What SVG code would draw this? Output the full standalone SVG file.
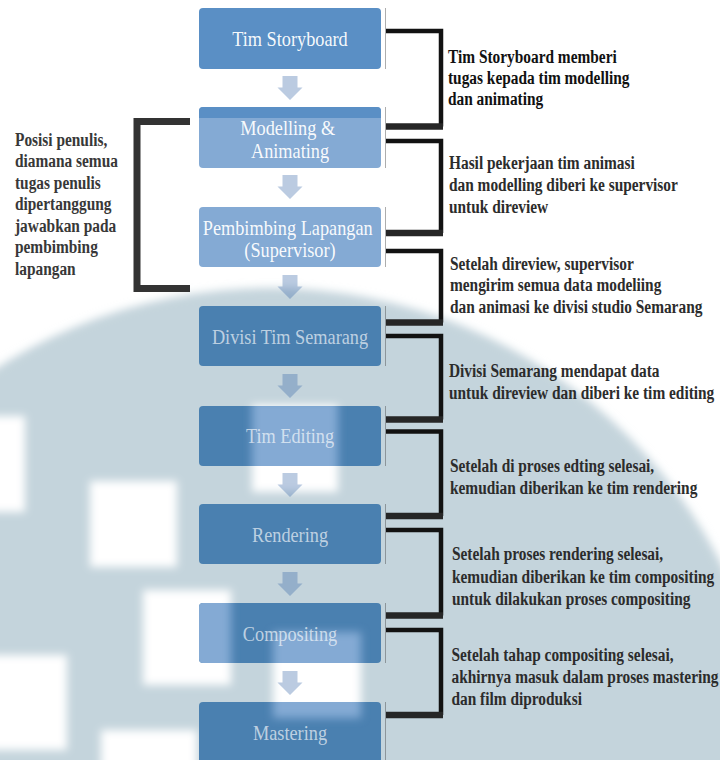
<svg xmlns="http://www.w3.org/2000/svg" xmlns:xlink="http://www.w3.org/1999/xlink" width="720" height="760" viewBox="0 0 720 760">
  <style>
    .lbl { font-family: "Liberation Serif", "Times New Roman", serif; font-size: 21px; text-anchor: middle; }
    .lbl-top { fill: #ffffff; fill-opacity: 0.96; }
    .lbl-low { fill: #ffffff; fill-opacity: 0.65; }
    .note { font-family: "Liberation Serif", "Times New Roman", serif; font-weight: bold; font-size: 19px; fill: #2c2c2c; }
    .edge { stroke: #4a4a4a; stroke-opacity: 0.45; stroke-width: 1; }
    .br { fill: none; stroke: #121212; stroke-width: 4.5; }
    .br-foot { fill: none; stroke: #262626; stroke-width: 6.5; }
    .br-left { fill: none; stroke: #333333; stroke-width: 7; }
    .arrow { fill: #3d6aa8; fill-opacity: 0.35; }
    .hole { fill: #ffffff; }
    .patch { fill: #84aad4; }
  </style>
  <defs>
    <filter id="soft" x="-30%" y="-30%" width="160%" height="160%">
      <feGaussianBlur stdDeviation="4"/>
    </filter>
    <path id="arr" d="M-7.5,0 H7.5 V11.5 H12.5 L0,24 L-12.5,11.5 H-7.5 Z"/>
    <clipPath id="clip-editing"><rect x="199" y="406" width="182" height="60" rx="4"/></clipPath>
    <clipPath id="clip-compositing"><rect x="199" y="603" width="182" height="60" rx="4"/></clipPath>
    <clipPath id="clip-mastering"><rect x="199" y="702" width="182" height="60" rx="4"/></clipPath>
  </defs>

  <!-- backdrop: white page, large grey disc, soft white blocks -->
  <g id="backdrop">
    <rect x="0" y="0" width="720" height="760" fill="#ffffff"/>
    <circle cx="270" cy="795" r="507" fill="#c4d4dc" filter="url(#soft)"/>
    <g filter="url(#soft)">
      <rect class="hole" x="-10" y="416" width="35" height="96"/>
      <rect class="hole" x="90" y="481" width="87" height="86"/>
      <rect class="hole" x="143" y="590" width="88" height="95"/>
      <rect class="hole" x="-10" y="655" width="77" height="95"/>
      <rect class="hole" x="101" y="730" width="96" height="40"/>
      <rect class="hole" x="252" y="405" width="86" height="87"/>
      <rect class="hole" x="273" y="632" width="88" height="86"/>
    </g>
  </g>

  <!-- flow arrows and side brackets -->
  <g id="connectors">
    <use class="arrow" xlink:href="#arr" x="290" y="76"/>
    <use class="arrow" xlink:href="#arr" x="290" y="175"/>
    <use class="arrow" xlink:href="#arr" x="290" y="275"/>
    <use class="arrow" xlink:href="#arr" x="290" y="374"/>
    <use class="arrow" xlink:href="#arr" x="290" y="473"/>
    <use class="arrow" xlink:href="#arr" x="290" y="572"/>
    <use class="arrow" xlink:href="#arr" x="290" y="671"/>

    <path class="br" d="M386,31 H441 V126.5"/>
    <path class="br-foot" d="M386,126.5 H443"/>
    <path class="br" d="M386,141 H441 V233"/>
    <path class="br-foot" d="M386,233 H443"/>
    <path class="br" d="M386,251 H441 V322.5"/>
    <path class="br-foot" d="M386,322.5 H443"/>
    <path class="br" d="M386,336 H441 V419.5"/>
    <path class="br-foot" d="M386,419.5 H443"/>
    <path class="br" d="M386,431.5 H441 V516"/>
    <path class="br-foot" d="M386,516 H443"/>
    <path class="br" d="M386,530 H441 V615.5"/>
    <path class="br-foot" d="M386,615.5 H443"/>
    <path class="br" d="M386,630 H441 V715"/>
    <path class="br-foot" d="M386,715 H443"/>

    <path class="br-left" d="M190,121.5 H137 V288.5 H190"/>
    <path class="br-left" stroke-width="9.5" d="M190,121.5 H137 M137,288.5 H190"/>
  </g>

  <!-- process steps -->
  <g id="node-storyboard">
    <rect x="199" y="8" width="182" height="61" rx="4" fill="#5a8fc5"/>
    <line class="edge" x1="385.5" y1="8" x2="385.5" y2="69"/>
    <text class="lbl lbl-top" transform="translate(290,0) scale(0.87,1)" x="0" y="46.5">Tim Storyboard</text>
  </g>

  <g id="node-modelling">
    <rect x="199" y="107" width="182" height="61" rx="4" fill="#84aad4"/>
    <path d="M199,118 V111 Q199,107 203,107 H377 Q381,107 381,111 V118 Z" fill="#5a8fc5"/>
    <line class="edge" x1="385.5" y1="107" x2="385.5" y2="168"/>
    <text class="lbl lbl-top" transform="translate(290,0) scale(0.87,1)">
      <tspan x="0" y="135">Modelling &amp;</tspan>
      <tspan x="0" y="158">Animating</tspan>
    </text>
  </g>

  <g id="node-supervisor">
    <rect x="199" y="207" width="182" height="60" rx="4" fill="#84aad4"/>
    <line class="edge" x1="385.5" y1="207" x2="385.5" y2="267"/>
    <text class="lbl lbl-top" transform="translate(290,0) scale(0.87,1)">
      <tspan x="0" y="235">Pembimbing Lapangan</tspan>
      <tspan x="0" y="257">(Supervisor)</tspan>
    </text>
  </g>

  <g id="node-semarang">
    <rect x="199" y="306" width="182" height="60" rx="4" fill="#4a80b0"/>
    <line class="edge" x1="385.5" y1="306" x2="385.5" y2="366"/>
    <text class="lbl lbl-low" transform="translate(290,0) scale(0.87,1)" x="0" y="344">Divisi Tim Semarang</text>
  </g>

  <g id="node-editing">
    <rect x="199" y="406" width="182" height="60" rx="4" fill="#4a80b0"/>
    <g clip-path="url(#clip-editing)">
      <rect class="patch" x="252" y="400" width="86" height="92" filter="url(#soft)"/>
    </g>
    <line class="edge" x1="385.5" y1="406" x2="385.5" y2="466"/>
    <text class="lbl lbl-low" transform="translate(290,0) scale(0.87,1)" x="0" y="443.5">Tim Editing</text>
  </g>

  <g id="node-rendering">
    <rect x="199" y="504" width="182" height="60" rx="4" fill="#4a80b0"/>
    <line class="edge" x1="385.5" y1="504" x2="385.5" y2="564"/>
    <text class="lbl lbl-low" transform="translate(290,0) scale(0.87,1)" x="0" y="542.5">Rendering</text>
  </g>

  <g id="node-compositing">
    <rect x="199" y="603" width="182" height="60" rx="4" fill="#4a80b0"/>
    <g clip-path="url(#clip-compositing)">
      <rect class="patch" x="143" y="590" width="88" height="95" filter="url(#soft)"/>
      <rect class="patch" x="273" y="632" width="88" height="86" filter="url(#soft)"/>
    </g>
    <line class="edge" x1="385.5" y1="603" x2="385.5" y2="663"/>
    <text class="lbl lbl-low" transform="translate(290,0) scale(0.87,1)" x="0" y="641.5">Compositing</text>
  </g>

  <g id="node-mastering">
    <rect x="199" y="702" width="182" height="62" rx="4" fill="#4a80b0"/>
    <g clip-path="url(#clip-mastering)">
      <rect class="patch" x="273" y="632" width="88" height="86" filter="url(#soft)"/>
    </g>
    <line class="edge" x1="385.5" y1="702" x2="385.5" y2="760"/>
    <text class="lbl lbl-low" transform="translate(290,0) scale(0.87,1)" x="0" y="740.5">Mastering</text>
  </g>

  <!-- explanatory notes -->
  <g id="note-writer">
    <text class="note" fill="#383838" style="fill:#383838" transform="translate(15,0) scale(0.81,1)">
      <tspan x="0" y="146">Posisi penulis,</tspan>
      <tspan x="0" y="167.5">diamana semua</tspan>
      <tspan x="0" y="189">tugas penulis</tspan>
      <tspan x="0" y="210.5">dipertanggung</tspan>
      <tspan x="0" y="232">jawabkan pada</tspan>
      <tspan x="0" y="253.5">pembimbing</tspan>
      <tspan x="0" y="275">lapangan</tspan>
    </text>
  </g>

  <g id="note-1">
    <text class="note" style="fill:#111111" transform="translate(448,0) scale(0.81,1)">
      <tspan x="0" y="63">Tim Storyboard memberi</tspan>
      <tspan x="0" y="84">tugas kepada tim modelling</tspan>
      <tspan x="0" y="105">dan animating</tspan>
    </text>
  </g>

  <g id="note-2">
    <text class="note" transform="translate(449,0) scale(0.81,1)">
      <tspan x="0" y="169">Hasil pekerjaan tim animasi</tspan>
      <tspan x="0" y="191.5">dan modelling diberi ke supervisor</tspan>
      <tspan x="0" y="213">untuk direview</tspan>
    </text>
  </g>

  <g id="note-3">
    <text class="note" transform="translate(450,0) scale(0.81,1)">
      <tspan x="0" y="270">Setelah direview, supervisor</tspan>
      <tspan x="0" y="291.5">mengirim semua data modeliing</tspan>
      <tspan x="0" y="313">dan animasi ke divisi studio Semarang</tspan>
    </text>
  </g>

  <g id="note-4">
    <text class="note" transform="translate(449,0) scale(0.81,1)">
      <tspan x="0" y="377">Divisi Semarang mendapat data</tspan>
      <tspan x="0" y="399">untuk direview dan diberi ke tim editing</tspan>
    </text>
  </g>

  <g id="note-5">
    <text class="note" transform="translate(450,0) scale(0.81,1)">
      <tspan x="0" y="472.5">Setelah di proses edting selesai,</tspan>
      <tspan x="0" y="494">kemudian diberikan ke tim rendering</tspan>
    </text>
  </g>

  <g id="note-6">
    <text class="note" transform="translate(452,0) scale(0.81,1)">
      <tspan x="0" y="560.5">Setelah proses rendering selesai,</tspan>
      <tspan x="0" y="583">kemudian diberikan ke tim compositing</tspan>
      <tspan x="0" y="605">untuk dilakukan proses compositing</tspan>
    </text>
  </g>

  <g id="note-7">
    <text class="note" transform="translate(451.5,0) scale(0.81,1)">
      <tspan x="0" y="661.5">Setelah tahap compositing selesai,</tspan>
      <tspan x="0" y="683.5">akhirnya masuk dalam proses mastering</tspan>
      <tspan x="0" y="705">dan film diproduksi</tspan>
    </text>
  </g>
</svg>
